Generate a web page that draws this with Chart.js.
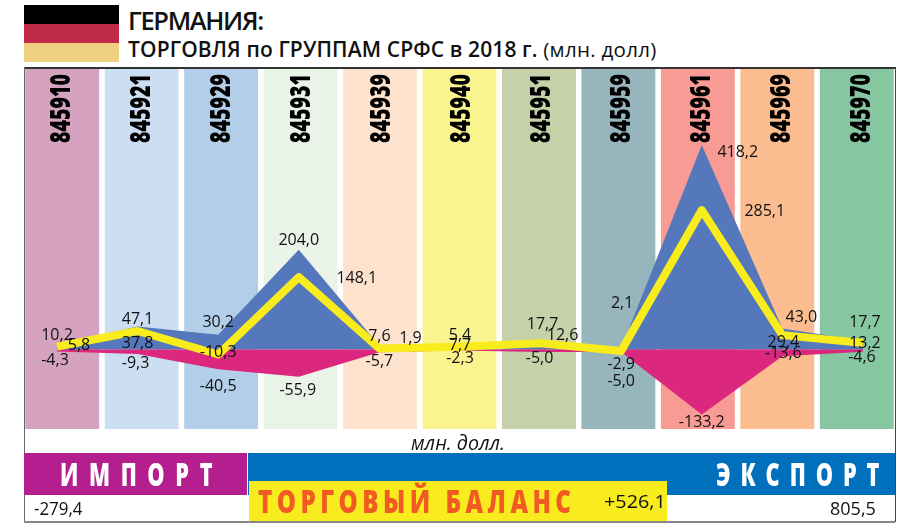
<!DOCTYPE html>
<html lang="ru">
<head>
<meta charset="utf-8">
<title>Германия: торговля по группам СРФС</title>
<script src="https://cdn.jsdelivr.net/npm/chart.js@4"></script>
<style>
    html, body { margin: 0; padding: 0; background: #fff; }
    #page { position: relative; width: 911px; height: 523px; overflow: hidden; font-family: "Open Sans", sans-serif; color: #111; }
    #page div { position: absolute; white-space: nowrap; }
    canvas { position: absolute; left: 0; top: 0; }
    .slim { font-weight: 800; transform-origin: left center; transform: scaleX(0.68); }
    .num { font-size: 18px; line-height: 24px; }
</style>
</head>
<body>
<div id="page">
    <!-- flag -->
    <div style="left:24px;top:5px;width:95px;height:19px;background:#000"></div>
    <div style="left:24px;top:24px;width:95px;height:19px;background:#BE2A47"></div>
    <div style="left:24px;top:43px;width:95px;height:19px;background:#EFD080"></div>
    <!-- title -->
    <div style="left:128px;top:4px;font-size:25.5px;line-height:32px;font-weight:600;letter-spacing:-1.35px">ГЕРМАНИЯ:</div>
    <div style="left:128px;top:35px;font-size:21px;line-height:28px;font-weight:600;letter-spacing:0.12px">ТОРГОВЛЯ по ГРУППАМ СРФС в 2018 г. <span style="font-weight:400;font-size:20.5px;letter-spacing:0.3px">(млн. долл)</span></div>

    <canvas id="bands" width="911" height="523"></canvas>
    <canvas id="chart" width="911" height="523"></canvas>

    <!-- frame -->
    <div style="left:24px;top:67px;width:871px;height:1.5px;background:#333"></div>
    <div style="left:23.5px;top:67px;width:1px;height:455px;background:#666"></div>
    <div style="left:895px;top:67px;width:1px;height:455px;background:#444"></div>
    <div style="left:24px;top:521px;width:871px;height:2px;background:#888"></div>

    <!-- bottom panel -->
    <div style="left:411px;top:430px;font-size:20px;line-height:26px;font-style:italic;transform-origin:left center;transform:scaleX(0.98)">млн. долл.</div>
    <div style="left:24px;top:453px;width:223px;height:42px;background:#B41E8E"></div>
    <div style="left:248px;top:453px;width:647px;height:42px;background:#0070BC"></div>
    <div class="slim" style="left:60px;top:453px;font-size:32px;line-height:42px;color:#fff;letter-spacing:15.6px">ИМПОРТ</div>
    <div class="slim" style="left:716px;top:453px;font-size:32px;line-height:42px;color:#fff;letter-spacing:14.6px">ЭКСПОРТ</div>
    <div style="left:249px;top:481px;width:418px;height:40px;background:#F8EC1E"></div>
    <div class="slim" style="left:258px;top:481px;font-size:31px;line-height:40px;color:#F15A22;letter-spacing:5.7px;transform:scaleX(0.78)">ТОРГОВЫЙ БАЛАНС</div>
    <div class="num" style="left:604px;top:489px;transform-origin:left center;transform:scaleX(1.1)">+526,1</div>
    <div class="num" style="left:34px;top:496px;transform-origin:left center;transform:scaleX(0.94)">-279,4</div>
    <div class="num" style="left:830px;top:496px">805,5</div>
</div>

<script>
// ===================================
// DATA
// ===================================
const categories = ['845910', '845921', '845929', '845931', '845939', '845940', '845951', '845959', '845961', '845969', '845970'];
const exportValues = [10.2, 47.1, 30.2, 204.0, 7.6, 7.7, 17.7, 2.1, 418.2, 43.0, 17.7];
const importValues = [-4.3, -9.3, -40.5, -55.9, -5.7, -2.3, -5.0, -5.0, -133.2, -13.6, -4.6];
const balanceValues = [5.8, 37.8, -10.3, 148.1, 1.9, 5.4, 12.6, -2.9, 285.1, 29.4, 13.2];

// ===================================
// STYLE
// ===================================
const bandColors = ['#D5A3BF', '#CCDEF1', '#B3CEE8', '#E9F3E8', '#FDE3CE', '#FAF48F', '#C5D1A8', '#96B5BC', '#F89B95', '#FBBD8F', '#86C6A0'];

// y range of the coloured columns
const yMin = -162.6;
const yMax = 573.6;
const chartPadding = { left: 22.5, right: 14.5, top: 69, bottom: 94 };

// label nudges in px from each point [dx, dy], the original places them by hand
const exportNudge = [[0, -9], [0, -7], [0, -12], [0, -9], [0, -9], [0, 0], [2, -16], [1, -45], [36, 7], [19, -11], [2, -18]];
const balanceNudge = [[22, -1], [0, 12], [0, -2], [58, 1], [31, -10], [0, -11], [22, -8], [0, 14], [63, 1], [1, 7], [2, 0]];
const importNudge = [[-2, 9], [-2, 9], [0, 17], [-1, 14], [0, 9], [0, 8], [-1, 7], [0, 30], [0, 8], [1, -3], [-1, 6]];

const toPoints = values => values.map((y, i) => ({ x: i, y: y }));
const formatValue = v => v.toFixed(1).replace('.', ',');

// ===================================
// BACK CHART: coloured columns + codes
// (own canvas, the columns do not line up with the points of the lines)
// ===================================
const codePlugin = {
    id: 'codes',
    afterDatasetsDraw(chart) {
        const ctx = chart.ctx;
        const x = chart.scales.x;
        ctx.save();
        ctx.fillStyle = '#000';
        ctx.font = '800 28px "Open Sans"';
        ctx.textAlign = 'right';
        ctx.textBaseline = 'middle';
        categories.forEach((code, i) => {
            ctx.save();
            ctx.translate(x.getPixelForValue(i) + i * 0.5, chart.chartArea.top + 5);
            ctx.rotate(-Math.PI / 2);
            ctx.scale(0.7, 1);
            ctx.fillText(code, 0, 0);
            ctx.restore();
        });
        ctx.restore();
    }
};

const bandChart = new Chart(document.getElementById('bands').getContext('2d'), {
    type: 'bar',
    data: {
        labels: categories,
        datasets: [{
            label: 'Группы',
            data: categories.map(() => [yMin, yMax]),
            backgroundColor: bandColors,
            barPercentage: 0.93,
            categoryPercentage: 1
        }]
    },
    options: {
        responsive: false,
        animation: false,
        layout: { padding: chartPadding },
        plugins: { legend: { display: false }, tooltip: { enabled: false } },
        scales: {
            x: { display: false },
            y: { display: false, min: yMin, max: yMax }
        }
    },
    plugins: [codePlugin]
});

// ===================================
// FRONT CHART: export, import, balance
// ===================================
const labelPlugin = {
    id: 'valueLabels',
    afterDatasetsDraw(chart) {
        const ctx = chart.ctx;
        const x = chart.scales.x;
        const y = chart.scales.y;
        ctx.save();
        ctx.fillStyle = '#111';
        ctx.font = '16px "Open Sans"';
        ctx.textAlign = 'center';
        ctx.textBaseline = 'middle';
        const drawLabels = (values, nudge) => {
            values.forEach((v, i) => {
                ctx.fillText(formatValue(v), x.getPixelForValue(i) + nudge[i][0], y.getPixelForValue(v) + nudge[i][1]);
            });
        };
        drawLabels(exportValues, exportNudge);
        drawLabels(balanceValues, balanceNudge);
        drawLabels(importValues, importNudge);
        ctx.restore();
    }
};

const tradeChart = new Chart(document.getElementById('chart').getContext('2d'), {
    type: 'line',
    data: {
        datasets: [
            {
                label: 'Экспорт',
                data: toPoints(exportValues),
                backgroundColor: '#5577BB',
                borderWidth: 0,
                pointRadius: 0,
                fill: 'origin',
                order: 3
            },
            {
                label: 'Импорт',
                data: toPoints(importValues),
                backgroundColor: '#DC277F',
                borderWidth: 0,
                pointRadius: 0,
                fill: 'origin',
                order: 2
            },
            {
                label: 'Торговый баланс',
                data: toPoints(balanceValues),
                borderColor: '#F8EC1C',
                borderWidth: 8,
                borderJoinStyle: 'round',
                pointRadius: 0,
                fill: false,
                order: 1
            }
        ]
    },
    options: {
        responsive: false,
        animation: false,
        layout: { padding: chartPadding },
        plugins: { legend: { display: false }, tooltip: { enabled: false } },
        scales: {
            x: { type: 'linear', display: false, min: -0.428, max: 10.416 },
            y: { type: 'linear', display: false, min: yMin, max: yMax }
        }
    },
    plugins: [labelPlugin]
});
</script>
</body>
</html>
